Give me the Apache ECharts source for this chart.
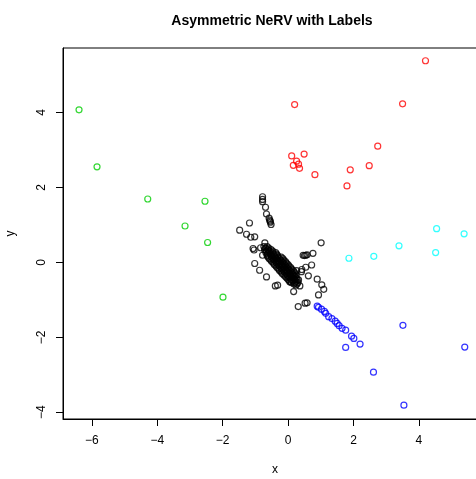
<!DOCTYPE html>
<html>
<head>
<meta charset="utf-8">
<script src="https://cdn.jsdelivr.net/npm/echarts@6/dist/echarts.min.js"></script>
<style>
  html, body { margin: 0; padding: 0; background: #fff; }
  #main { width: 476px; height: 479px; }
</style>
</head>
<body>
<div id="main"></div>
<script>
// points, [x, y]
const pointsBlack = [
  [-0.78, 1.75], [-0.78, 1.68], [-0.78, 1.62], [-0.69, 1.47], [-0.66, 1.29],
  [-0.58, 1.18], [-0.56, 1.13], [-0.54, 1.07], [-0.52, 1.01], [-0.55, 1.10],
  [-1.18, 1.05], [-1.48, 0.86], [-1.27, 0.75], [-1.14, 0.67], [-0.71, 0.52],
  [-1.04, 0.33], [-0.84, 0.39], [-0.61, 0.33], [-0.78, 0.19], [-1.02, -0.03],
  [-0.87, -0.21], [-0.66, -0.39], [-0.39, -0.63], [-0.32, -0.61], [0.17, -0.78],
  [0.31, -1.18], [0.52, -1.09], [0.58, -1.08], [1.01, 0.52], [0.46, 0.19],
  [0.54, 0.19], [0.58, 0.20], [0.50, 0.18], [0.76, 0.24], [0.42, -0.19],
  [0.54, -0.13], [0.72, -0.07], [0.26, -0.22], [0.62, -0.36], [0.89, -0.45],
  [1.03, -0.60], [1.09, -0.72], [0.93, -0.87], [0.32, -0.47], [0.36, -0.63],
  [0.24, -0.61], [0.05, -0.52], [0.41, -0.25], [-1.07, 0.37], [-1.02, 0.68],
  // dense blob
  [-0.74, 0.42], [-0.64, 0.42],
  [-0.69, 0.38], [-0.59, 0.38],
  [-0.72, 0.34], [-0.62, 0.34], [-0.52, 0.34],
  [-0.67, 0.30], [-0.57, 0.30], [-0.47, 0.30],
  [-0.68, 0.26], [-0.58, 0.26], [-0.48, 0.26], [-0.38, 0.26],
  [-0.63, 0.22], [-0.53, 0.22], [-0.43, 0.22], [-0.35, 0.22],
  [-0.64, 0.18], [-0.52, 0.18], [-0.42, 0.18], [-0.32, 0.18],
  [-0.61, 0.14], [-0.51, 0.14], [-0.41, 0.14], [-0.31, 0.14], [-0.21, 0.14],
  [-0.58, 0.10], [-0.46, 0.10], [-0.36, 0.10], [-0.26, 0.10], [-0.16, 0.10],
  [-0.53, 0.06], [-0.43, 0.06], [-0.33, 0.06], [-0.23, 0.06], [-0.13, 0.06],
  [-0.50, 0.02], [-0.38, 0.02], [-0.28, 0.02], [-0.18, 0.02], [-0.08, 0.02],
  [-0.45, -0.02], [-0.35, -0.02], [-0.25, -0.02], [-0.15, -0.02], [-0.05, -0.02],
  [-0.42, -0.06], [-0.30, -0.06], [-0.20, -0.06], [-0.10, -0.06], [0.00, -0.06],
  [-0.37, -0.10], [-0.27, -0.10], [-0.17, -0.10], [-0.07, -0.10], [0.03, -0.10],
  [-0.34, -0.14], [-0.22, -0.14], [-0.12, -0.14], [-0.02, -0.14], [0.08, -0.14],
  [-0.29, -0.18], [-0.19, -0.18], [-0.09, -0.18], [0.01, -0.18], [0.11, -0.18],
  [-0.26, -0.22], [-0.14, -0.22], [-0.04, -0.22], [0.06, -0.22], [0.16, -0.22],
  [-0.21, -0.26], [-0.11, -0.26], [-0.01, -0.26], [0.09, -0.26], [0.19, -0.26],
  [-0.18, -0.30], [-0.06, -0.30], [0.04, -0.30], [0.14, -0.30], [0.22, -0.30],
  [-0.13, -0.34], [-0.03, -0.34], [0.07, -0.34], [0.17, -0.34], [0.25, -0.34],
  [-0.08, -0.38], [0.02, -0.38], [0.12, -0.38], [0.22, -0.38],
  [-0.04, -0.42], [0.06, -0.42], [0.16, -0.42], [0.25, -0.42],
  [0.00, -0.46], [0.10, -0.46], [0.20, -0.46], [0.28, -0.46],
  [0.05, -0.50], [0.15, -0.50], [0.24, -0.50],
  [0.10, -0.54], [0.20, -0.54], [0.30, -0.54],
  [0.18, -0.58], [0.27, -0.58]
];
const pointsRed = [
  [4.20, 5.38], [0.20, 4.21], [3.50, 4.23], [2.74, 3.10], [0.49, 2.89],
  [0.11, 2.84], [0.26, 2.70], [0.16, 2.59], [0.32, 2.62], [0.35, 2.51],
  [0.82, 2.34], [1.90, 2.47], [2.48, 2.58], [1.80, 2.04]
];
const pointsGreen = [
  [-6.39, 4.07], [-5.84, 2.55], [-4.29, 1.69], [-2.54, 1.63], [-3.15, 0.97],
  [-2.46, 0.53], [-1.99, -0.93]
];
const pointsBlue = [
  [3.51, -1.68], [5.40, -2.26], [1.76, -2.27], [2.61, -2.93], [3.54, -3.81],
  [0.89, -1.17], [0.93, -1.20], [1.02, -1.25], [1.11, -1.31], [1.15, -1.36],
  [1.24, -1.45], [1.34, -1.50], [1.44, -1.57], [1.50, -1.63], [1.56, -1.69],
  [1.65, -1.76], [1.76, -1.81], [1.94, -1.97], [2.01, -2.03], [2.20, -2.18]
];
const pointsCyan = [
  [4.54, 0.90], [5.38, 0.76], [3.39, 0.44], [4.51, 0.26], [2.62, 0.16], [1.86, 0.11]
];
const xTicks = [-6, -4, -2, 0, 2, 4];
const yTicks = [-4, -2, 0, 2, 4];

const FONT = '"Liberation Sans", Arial, sans-serif';

function gen_points(data, color) {
    return {
        type: 'scatter',
        data: data,
        symbol: 'circle',
        symbolSize: 6,
        silent: true,
        itemStyle: {
            color: 'rgba(0,0,0,0)',
            borderColor: color,
            borderWidth: 1.2
        }
    };
}

function minus(v) {
    return String(v).replace('-', '\u2212');
}

function gen_axis(min, max, ticks, name, extra) {
    let ax = {
        type: 'value',
        min: min,
        max: max,
        name: name,
        nameLocation: 'middle',
        nameTextStyle: {color: '#000', fontSize: 12, fontFamily: FONT},
        axisLine: {show: true, onZero: false, lineStyle: {color: '#000', width: 1}},
        axisTick: {show: true, inside: false, length: 7, customValues: ticks,
                   lineStyle: {color: '#000', width: 1}},
        axisLabel: {show: true, customValues: ticks, formatter: minus,
                    color: '#000', fontSize: 12, fontFamily: FONT},
        splitLine: {show: false}
    };
    for (let key in extra) {
        if (typeof extra[key] === 'object' && ax[key]) Object.assign(ax[key], extra[key]);
        else ax[key] = extra[key];
    }
    return ax;
}

let chart = echarts.init(document.getElementById('main'), null, {renderer: 'canvas'});

chart.setOption({
    backgroundColor: '#fff',
    animation: false,
    title: {
        text: 'Asymmetric NeRV with Labels',
        left: 267,
        top: 9,
        textAlign: 'center',
        textStyle: {color: '#000', fontSize: 14, fontWeight: 'bold', fontFamily: FONT}
    },
    grid: {
        left: 63,
        right: -11,
        top: 48,
        bottom: 60,
        outerBoundsMode: 'none',
        containLabel: false,
        show: true,
        borderColor: '#000',
        borderWidth: 1,
        backgroundColor: 'rgba(0,0,0,0)'
    },
    xAxis: gen_axis(-6.88, 6.08, xTicks, 'x', {
        nameGap: 45,
        axisLabel: {margin: 16}
    }),
    yAxis: gen_axis(-4.18, 5.72, yTicks, 'y', {
        nameGap: 46,
        nameRotate: 90,
        axisLabel: {margin: 15, rotate: 90}
    }),
    series: [
        gen_points(pointsBlack, '#000000'),
        gen_points(pointsRed, '#FF0000'),
        gen_points(pointsGreen, '#00CD00'),
        gen_points(pointsBlue, '#0000FF'),
        gen_points(pointsCyan, '#00FFFF')
    ]
});
</script>
</body>
</html>
